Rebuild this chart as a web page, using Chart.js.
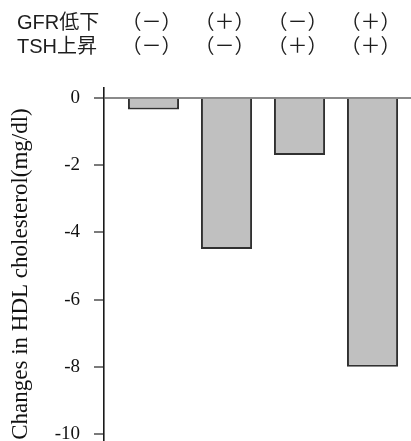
<!DOCTYPE html>
<html>
<head>
<meta charset="utf-8">
<script src="https://cdn.jsdelivr.net/npm/chart.js@4"></script>
<style>
  html, body { margin: 0; padding: 0; background: #fff; overflow: hidden; }
  #wrap { width: 411px; height: 441px; overflow: hidden; }
  canvas { display: block; }
</style>
</head>
<body>
<div id="wrap"><canvas id="c" width="411" height="460"></canvas></div>
<script>
// Groups along the x axis (1..4) and the mean change in HDL cholesterol (mg/dl)
const groups = [1, 2, 3, 4];
const hdlChange = [-0.35, -4.5, -1.7, -8.0];

// Condition table shown above the bars
const rowLabels = ['GFR低下', 'TSH上昇'];
const gfrRow = ['（－）', '（＋）', '（－）', '（＋）'];
const tshRow = ['（－）', '（－）', '（＋）', '（＋）'];

// Y axis tick values
const yTicks = [0, -2, -4, -6, -8, -10];

const conditionTable = {
  id: 'conditionTable',
  afterDraw(chart) {
    const ctx = chart.ctx;
    const x = chart.scales.x;
    const rows = [gfrRow, tshRow];
    const rowY = [23, 47];
    ctx.save();
    ctx.fillStyle = '#1e1e1e';
    ctx.font = '20px "Liberation Sans", "Noto Sans CJK JP", sans-serif';
    ctx.textBaseline = 'middle';
    rows.forEach((row, r) => {
      ctx.textAlign = 'left';
      ctx.fillText(rowLabels[r], 17, rowY[r]);
      ctx.textAlign = 'center';
      row.forEach((txt, i) => {
        ctx.fillText(txt, x.getPixelForValue(groups[i]) - 2, rowY[r]);
      });
    });
    ctx.restore();
  }
};

new Chart(document.getElementById('c'), {
  type: 'bar',
  data: {
    datasets: [{
      data: groups.map((g, i) => ({ x: g, y: hdlChange[i] })),
      backgroundColor: '#c0c0c0',
      borderColor: '#303030',
      borderWidth: 2,
      borderSkipped: 'start',
      barPercentage: 0.875,
      categoryPercentage: 0.8
    }]
  },
  options: {
    responsive: false,
    animation: false,
    events: [],
    layout: { padding: { top: 88, left: 0, right: 0, bottom: 0 } },
    plugins: {
      legend: { display: false },
      tooltip: { enabled: false }
    },
    scales: {
      x: {
        type: 'linear',
        display: false,
        offset: false,
        min: 0.322,
        max: 4.527
      },
      y: {
        min: -10.77,
        max: 0.288,
        afterBuildTicks: (axis) => { axis.ticks = yTicks.map(v => ({ value: v })); },
        afterFit: (axis) => {
          axis.width = 104;
          axis.paddingTop = 0;
          axis.paddingBottom = 0;
        },
        border: { display: true, color: '#1a1a1a', width: 1.6 },
        grid: {
          drawOnChartArea: true,
          drawTicks: true,
          tickLength: 10,
          lineWidth: 2,
          color: (c) => (c.tick && c.tick.value === 0 ? '#8a8a8a' : 'rgba(0,0,0,0)'),
          tickColor: '#7a7a7a',
          tickWidth: 2
        },
        ticks: {
          padding: 14,
          color: '#111',
          font: { family: '"Liberation Serif", serif', size: 19 }
        },
        title: {
          display: true,
          text: 'Changes in HDL cholesterol(mg/dl)',
          color: '#111',
          padding: { top: 7, bottom: 0 },
          font: { family: '"Liberation Serif", serif', size: 23 }
        }
      }
    }
  },
  plugins: [conditionTable]
});
</script>
</body>
</html>
